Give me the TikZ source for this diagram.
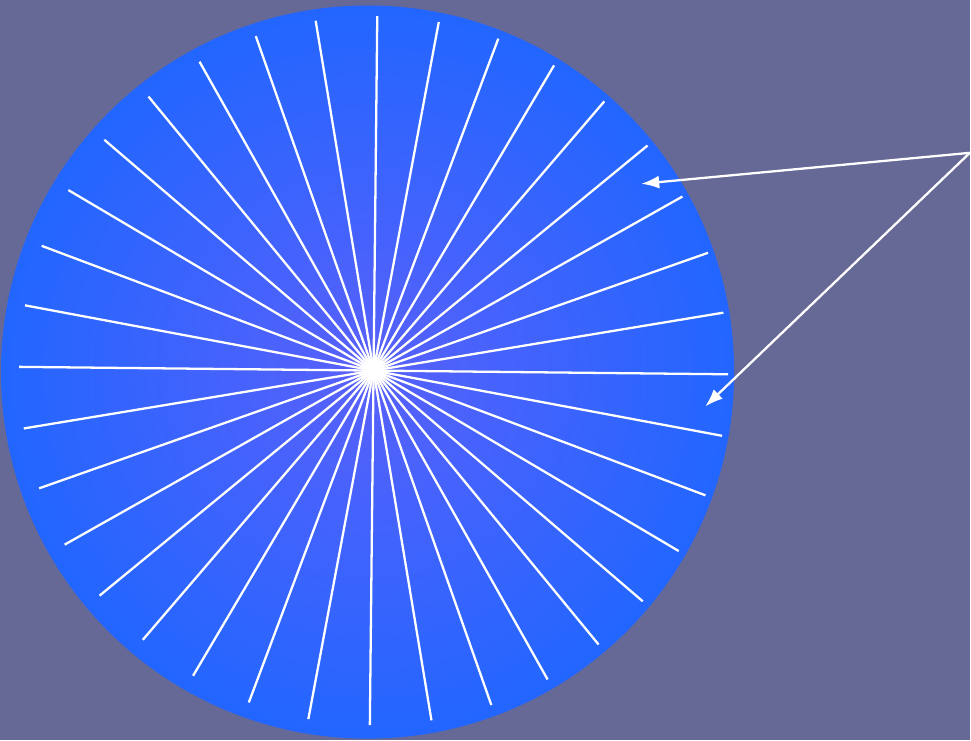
\documentclass[tikz,border=0pt]{standalone}
\usetikzlibrary{arrows.meta}
\definecolor{bgpurple}{RGB}{102,104,150}
\definecolor{rimblue}{RGB}{34,102,255}
\definecolor{hubblue}{RGB}{90,96,250}
\begin{document}
\begin{tikzpicture}[x=0.02cm, y=-0.02cm,
    spoke/.style={white, line width=1.3pt},
    pointer/.style={white, line width=1.3pt, -{Latex[length=3.6mm, width=2.6mm]}}]
  \fill[bgpurple] (0,0) rectangle (971,741);
  \shade[inner color=hubblue, outer color=rimblue] (368,372.5) circle (367);
  \coordinate (hub) at (374,371);
  \foreach \a in {0,10,...,350}
    \draw[spoke] (hub) -- ++({\a+0.6}:355);
  \coordinate (src) at (971,153);
  \coordinate (upper) at (642,184);
  \coordinate (lower) at (706,407);
  \draw[pointer] (src) -- (upper);
  \draw[pointer] (src) -- (lower);
\end{tikzpicture}
\end{document}
